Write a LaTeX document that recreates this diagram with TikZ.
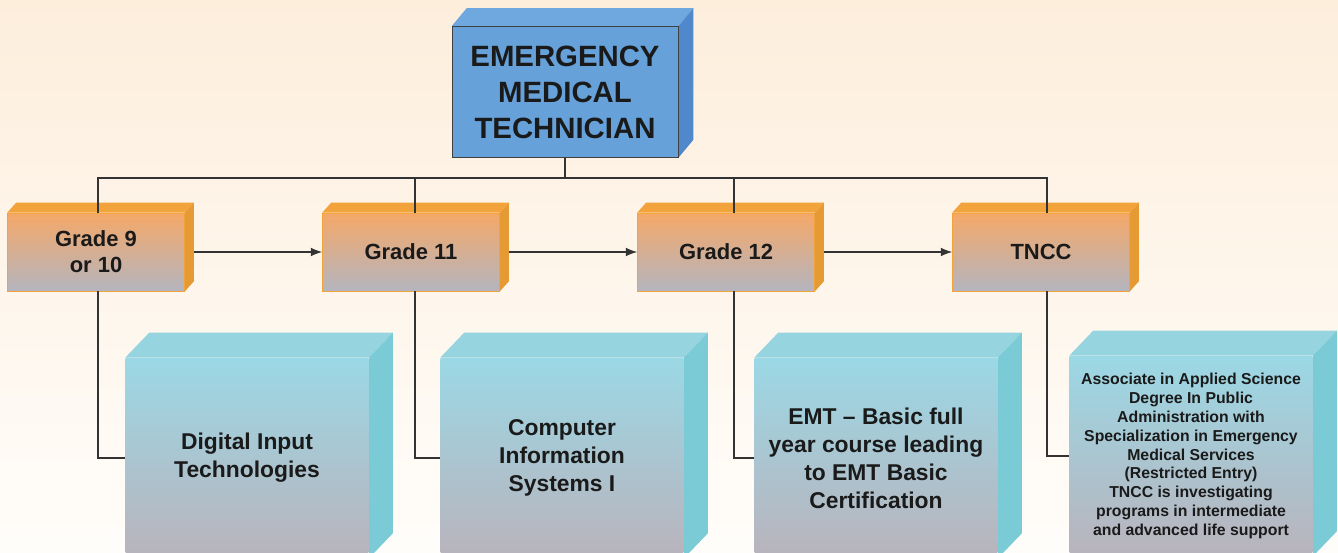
\documentclass[tikz,border=0pt]{standalone}
\usepackage{fontspec}
\setmainfont{Liberation Sans}
\usetikzlibrary{backgrounds,arrows.meta}
\definecolor{bgpeach}{HTML}{FDEEDC}
\definecolor{bgcream}{HTML}{FFFDFA}
\definecolor{emtblue}{HTML}{66A1D9}
\definecolor{emttop}{HTML}{6EA8DE}
\definecolor{emtside}{HTML}{4F89CC}
\definecolor{gradetop}{HTML}{F5A868}
\definecolor{gradebot}{HTML}{B4B5BF}
\definecolor{gradeedge}{HTML}{F2A33C}
\definecolor{gradeside}{HTML}{E69A33}
\definecolor{coursetop}{HTML}{9BD8E5}
\definecolor{coursebot}{HTML}{B9B3BC}
\definecolor{courseside}{HTML}{7ACBD5}
\definecolor{courselid}{HTML}{96D4E0}
\definecolor{ink}{HTML}{1A1A1A}
\begin{document}
\begin{tikzpicture}[x=0.02cm,y=-0.02cm,>={Latex[length=6.5pt,width=5pt]},
	topbox/.style={draw=black!75,fill=emtblue,minimum width=4.52cm,minimum height=2.62cm,inner sep=0pt,align=center,text=ink,font=\bfseries\fontsize{16.7}{20.5}\selectfont},
	gradebox/.style={draw=gradeedge,top color=gradetop,bottom color=gradebot,minimum width=3.54cm,minimum height=1.56cm,inner sep=0pt,align=center,text=ink,font=\bfseries\fontsize{12.5}{14.8}\selectfont},
	coursebox/.style={top color=coursetop,middle color=coursetop!70!coursebot,bottom color=coursebot,minimum width=4.86cm,minimum height=4cm,inner sep=0pt,align=center,text=ink,font=\bfseries\fontsize{13}{15.9}\selectfont},
	link/.style={black!80,line width=0.6pt}]
	\useasboundingbox (0,0) rectangle (1338,552);
	\clip (0,0) rectangle (1338,552);
	\begin{pgfonlayer}{background}
		\shade[top color=bgpeach,bottom color=bgcream] (0,0) rectangle (1338,552);
	\end{pgfonlayer}
	\node[topbox] (emt) at (565,92) {EMERGENCY\\MEDICAL\\TECHNICIAN};
	\node[gradebox] (g1) at (96,252) {Grade 9\\or 10};
	\node[gradebox] (g2) at (411,252) {Grade 11};
	\node[gradebox] (g3) at (726,252) {Grade 12};
	\node[gradebox] (g4) at (1041,252) {TNCC};
	\node[coursebox] (c1) at (247,458) {Digital Input\\Technologies};
	\node[coursebox] (c2) at (562,458) {Computer\\Information\\Systems I};
	\node[coursebox] (c3) at (876,458) {EMT -- Basic full\\year course leading\\to EMT Basic\\Certification};
	\node[coursebox,font=\bfseries\fontsize{9}{10.7}\selectfont] (c4) at (1191,456) {Associate in Applied Science\\Degree In Public\\Administration with\\Specialization in Emergency\\Medical Services\\(Restricted Entry)\\TNCC is investigating\\programs in intermediate\\and advanced life support};
	% depth of the boxes
	\begin{pgfonlayer}{background}
		\foreach \n/\dx/\dy/\lid/\side in {emt/15/18/emttop/emtside,g1/9/10/gradeedge/gradeside,g2/9/10/gradeedge/gradeside,g3/9/10/gradeedge/gradeside,g4/9/10/gradeedge/gradeside,c1/24/25/courselid/courseside,c2/24/25/courselid/courseside,c3/24/25/courselid/courseside,c4/24/25/courselid/courseside}{
			\fill[\lid] (\n.north west) -- ++(\dx,-\dy) -- ([shift={(\dx,-\dy)}]\n.north east) -- (\n.north east) -- cycle;
			\fill[\side] (\n.north east) -- ++(\dx,-\dy) -- ([shift={(\dx,-\dy)}]\n.south east) -- (\n.south east) -- cycle;
		}
	\end{pgfonlayer}
	\coordinate (bus) at (565,178);
	\draw[link] (emt.south) -- (bus);
	\draw[link] ([xshift=0.04cm]g1.north) |- (bus);
	\draw[link] ([xshift=0.08cm]g2.north) |- (bus);
	\draw[link] ([xshift=0.16cm]g3.north) |- (bus);
	\draw[link] ([xshift=0.12cm]g4.north) |- (bus);
	\draw[link,->] ([xshift=0.18cm]g1.east) -- (g2.west);
	\draw[link,->] ([xshift=0.18cm]g2.east) -- (g3.west);
	\draw[link,->] ([xshift=0.18cm]g3.east) -- (g4.west);
	\draw[link] ([xshift=0.04cm]g1.south) |- (c1.west);
	\draw[link] ([xshift=0.08cm]g2.south) |- (c2.west);
	\draw[link] ([xshift=0.16cm]g3.south) |- (c3.west);
	\draw[link] ([xshift=0.12cm]g4.south) |- (c4.west);
\end{tikzpicture}
\end{document}
